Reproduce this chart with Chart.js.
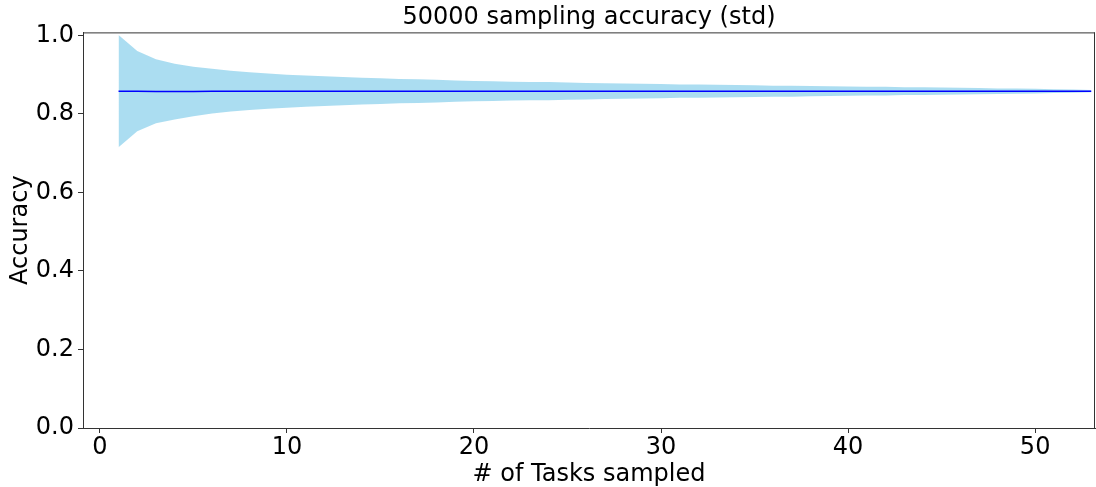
<!DOCTYPE html>
<html>
<head>
<meta charset="utf-8">
<script src="https://cdn.jsdelivr.net/npm/chart.js@4/dist/chart.umd.min.js"></script>
<style>
html,body{margin:0;padding:0;background:#fff;}
#wrap{width:1096px;height:487px;position:relative;}
</style>
</head>
<body>
<div id="wrap"><canvas id="c"></canvas></div>
<script>
// Number of tasks sampled
const tasks = [1,2,3,4,5,6,7,8,9,10,11,12,13,14,15,16,17,18,19,20,21,22,23,24,25,26,27,28,29,30,31,32,33,34,35,36,37,38,39,40,41,42,43,44,45,46,47,48,49,50,51,52,53];
// Mean accuracy
const meanAcc = [0.858,0.858,0.857,0.857,0.857,0.858,0.858,0.858,0.858,0.858,0.858,0.858,0.858,0.858,0.858,0.858,0.858,0.858,0.858,0.858,0.858,0.858,0.858,0.858,0.858,0.858,0.858,0.858,0.858,0.858,0.858,0.858,0.858,0.858,0.858,0.858,0.858,0.858,0.858,0.858,0.858,0.858,0.858,0.858,0.858,0.858,0.858,0.858,0.858,0.858,0.858,0.858,0.858];
// mean + std
const upperAcc = [1.001,0.960,0.939,0.928,0.920,0.915,0.910,0.906,0.903,0.900,0.898,0.896,0.894,0.892,0.891,0.889,0.888,0.887,0.885,0.884,0.883,0.882,0.881,0.881,0.880,0.879,0.878,0.8775,0.877,0.876,0.875,0.875,0.874,0.8735,0.873,0.872,0.872,0.871,0.8705,0.870,0.869,0.869,0.868,0.8676,0.867,0.8664,0.8658,0.865,0.8645,0.864,0.863,0.862,0.861];
// mean - std
const lowerAcc = [0.715,0.756,0.776,0.786,0.794,0.801,0.806,0.810,0.813,0.816,0.818,0.820,0.822,0.824,0.825,0.827,0.828,0.829,0.831,0.832,0.833,0.834,0.835,0.835,0.836,0.837,0.838,0.8385,0.839,0.840,0.841,0.841,0.842,0.8425,0.843,0.844,0.844,0.845,0.8455,0.846,0.847,0.847,0.848,0.8484,0.849,0.8496,0.8502,0.851,0.8515,0.852,0.853,0.854,0.855];
// Tick values
const xTicks = [0,10,20,30,40,50];
const yTicks = [0.0,0.2,0.4,0.6,0.8,1.0];

const FONT = "'DejaVu Sans', sans-serif";
const pts = (ys) => tasks.map((x,i)=>({x:x,y:ys[i]}));

const frame = {
  id:'frame',
  afterDraw(chart){
    const a = chart.chartArea, ctx = chart.ctx;
    ctx.save();
    ctx.strokeStyle = '#333';
    ctx.lineWidth = 1;
    ctx.beginPath();
    ctx.moveTo(a.left, a.top+0.5); ctx.lineTo(a.right, a.top+0.5);
    ctx.moveTo(a.right-0.5, a.top); ctx.lineTo(a.right-0.5, a.bottom);
    ctx.stroke();
    ctx.restore();
  }
};

new Chart(document.getElementById('c'), {
  type:'line',
  data:{
    datasets:[
      {label:'mean', data:pts(meanAcc), borderColor:'#0000ff', borderWidth:1.5, pointRadius:0, fill:false, order:0, tension:0},
      {label:'upper', data:pts(upperAcc), borderWidth:0, borderColor:'rgba(0,0,0,0)', pointRadius:0, fill:'+1', backgroundColor:'rgba(135,206,235,0.7)', order:1, tension:0},
      {label:'lower', data:pts(lowerAcc), borderWidth:0, borderColor:'rgba(0,0,0,0)', pointRadius:0, fill:false, order:2, tension:0}
    ]
  },
  options:{
    responsive:true, maintainAspectRatio:false, animation:false,
    layout:{padding:{left:0,right:1,top:0,bottom:0}},
    plugins:{
      legend:{display:false},
      tooltip:{enabled:false},
      title:{display:true, fullSize:false, text:'50000 sampling accuracy (std)', color:'#000', font:{family:FONT,size:24,weight:'normal',lineHeight:1.1}, padding:{top:5,bottom:1}}
    },
    scales:{
      x:{
        type:'linear', min:-0.9, max:53.2,
        afterBuildTicks(s){ s.ticks = xTicks.map(v=>({value:v})); },
        afterFit(s){ s.height = 59; },
        ticks:{color:'#000', font:{family:FONT,size:24}, padding:0, maxRotation:0, callback:v=>String(v)},
        grid:{drawOnChartArea:false, drawTicks:true, tickLength:5, color:'#333'},
        border:{display:true, color:'#333', width:1},
        title:{display:true, text:'# of Tasks sampled', color:'#000', font:{family:FONT,size:24}, padding:{top:0,bottom:-2}}
      },
      y:{
        min:0, max:1.0076,
        afterBuildTicks(s){ s.ticks = yTicks.map(v=>({value:v})); },
        afterFit(s){ s.width = 83; },
        ticks:{color:'#000', font:{family:FONT,size:24}, padding:4, callback:v=>v.toFixed(1)},
        grid:{drawOnChartArea:false, drawTicks:true, tickLength:5, color:'#333'},
        border:{display:true, color:'#333', width:1},
        title:{display:true, text:'Accuracy', color:'#000', font:{family:FONT,size:24}, padding:{top:6,bottom:0}}
      }
    }
  },
  plugins:[frame]
});
</script>
</body>
</html>
